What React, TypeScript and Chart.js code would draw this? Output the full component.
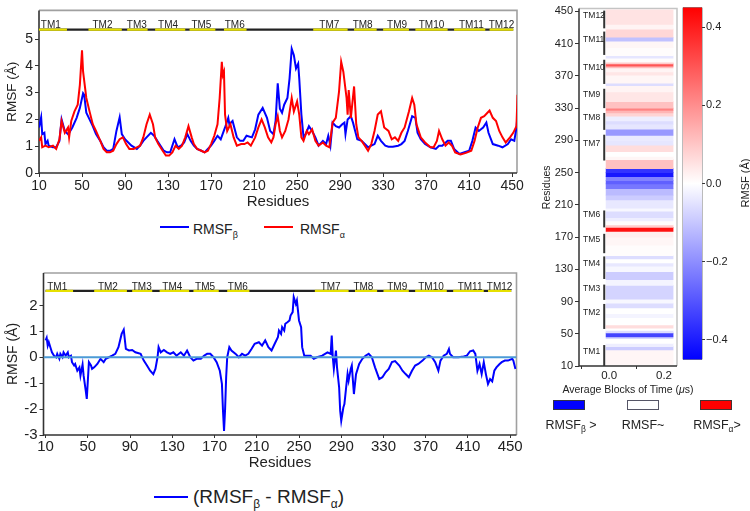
import React, { useEffect, useRef } from 'react';
import { Chart, registerables } from 'chart.js';

Chart.register(...registerables);

const FONT = "'Liberation Sans', Arial, Helvetica, sans-serif";
Chart.defaults.font.family = FONT;
Chart.defaults.color = '#222';

// ---------------- data ----------------
const betaRes = [10, 12, 13, 15, 16, 18, 19, 23, 26, 29, 31, 34, 37, 38, 41, 45, 48, 51, 52, 54, 57, 60, 63, 67, 70, 73, 76, 79, 82, 85, 87, 90, 93, 96, 101, 104, 107, 110, 114, 117, 120, 123, 126, 129, 132, 136, 139, 142, 145, 148, 151, 154, 157, 161, 164, 167, 170, 173, 176, 179, 183, 186, 187, 190, 194, 197, 200, 203, 208, 211, 214, 218, 222, 225, 228, 230, 232, 234, 236, 238, 241, 243, 245, 247, 249, 251, 252, 254, 256, 258, 261, 264, 267, 270, 274, 277, 279, 281, 283, 286, 289, 292, 294, 295, 297, 300, 302, 304, 306, 310, 313, 316, 319, 322, 325, 328, 332, 335, 339, 344, 347, 350, 353, 357, 360, 362, 365, 369, 374, 379, 382, 385, 390, 393, 396, 401, 405, 410, 413, 416, 419, 423, 426, 428, 432, 437, 441, 446, 449, 452, 454, 455];
const betaVal = [1.7, 2.08, 1.45, 1.5, 1.08, 1.2, 1.02, 0.96, 0.96, 1.2, 2.0, 1.57, 1.45, 1.5, 1.7, 2.06, 2.43, 2.98, 2.92, 2.25, 2.0, 1.75, 1.45, 1.2, 0.96, 0.83, 0.83, 0.9, 1.57, 2.08, 1.45, 1.26, 1.14, 1.02, 0.9, 1.02, 1.2, 1.33, 1.5, 1.39, 1.2, 1.02, 0.83, 0.77, 0.77, 1.26, 0.96, 1.02, 1.14, 1.45, 1.2, 1.02, 0.9, 0.83, 0.77, 0.9, 1.02, 1.2, 1.39, 1.26, 1.7, 2.06, 1.82, 1.94, 1.33, 1.2, 1.2, 1.39, 1.33, 1.63, 2.18, 2.43, 2.06, 1.57, 1.45, 1.94, 3.35, 2.4, 2.25, 2.55, 2.8, 3.53, 4.64, 4.4, 3.9, 4.08, 3.53, 2.18, 1.33, 1.45, 1.75, 1.57, 1.33, 1.02, 1.2, 1.08, 1.39, 1.02, 1.88, 1.75, 1.7, 1.82, 1.88, 1.45, 2.0, 2.12, 1.88, 1.57, 1.26, 1.2, 1.08, 0.96, 1.02, 1.08, 1.39, 1.2, 1.02, 0.98, 0.98, 1.02, 1.08, 1.2, 1.57, 2.12, 2.06, 1.5, 1.26, 1.08, 0.96, 0.9, 1.02, 1.02, 1.2, 1.2, 0.9, 0.71, 0.77, 0.83, 1.2, 1.7, 1.57, 1.7, 1.88, 1.5, 1.08, 1.02, 0.96, 1.08, 1.26, 1.2, 1.7, 2.18];

const alphaRes = [10, 12, 13, 16, 19, 23, 26, 29, 31, 34, 37, 38, 40, 43, 46, 48, 50, 51, 54, 57, 60, 63, 67, 70, 73, 76, 79, 82, 85, 88, 91, 94, 98, 101, 104, 107, 110, 113, 116, 118, 121, 125, 128, 131, 134, 137, 140, 143, 146, 149, 152, 154, 157, 161, 164, 167, 170, 173, 176, 178, 180, 181, 182, 183, 185, 188, 191, 194, 198, 201, 204, 207, 211, 214, 217, 220, 223, 226, 228, 230, 232, 234, 236, 239, 242, 245, 247, 250, 252, 254, 256, 259, 261, 264, 267, 270, 274, 277, 280, 283, 286, 289, 291, 293, 296, 297, 298, 300, 303, 305, 307, 310, 313, 316, 319, 322, 325, 328, 331, 335, 338, 341, 344, 347, 350, 354, 357, 359, 361, 365, 369, 374, 377, 380, 382, 385, 388, 391, 394, 397, 402, 407, 412, 415, 418, 421, 424, 427, 429, 432, 435, 438, 441, 444, 448, 451, 454, 455];
const alphaVal = [1.2, 1.33, 0.96, 1.02, 0.96, 1.02, 0.9, 1.26, 1.94, 1.5, 1.7, 1.33, 1.94, 2.3, 2.55, 3.29, 4.58, 3.78, 2.8, 2.3, 1.82, 1.57, 1.2, 0.9, 0.77, 0.77, 0.83, 1.08, 1.26, 1.33, 1.08, 0.9, 0.9, 0.96, 1.02, 1.33, 1.82, 2.18, 1.82, 1.33, 1.08, 0.83, 0.65, 0.65, 0.77, 1.02, 0.9, 1.02, 1.33, 1.75, 1.33, 1.08, 0.9, 0.83, 0.77, 0.83, 1.08, 1.39, 1.82, 2.8, 4.15, 3.66, 3.78, 2.18, 1.57, 1.82, 1.33, 1.02, 1.08, 1.08, 1.14, 1.02, 1.33, 1.7, 2.0, 1.7, 1.33, 1.14, 1.33, 1.82, 2.12, 1.57, 1.33, 1.57, 2.0, 2.8, 2.3, 2.67, 2.18, 1.33, 1.2, 1.57, 1.45, 1.63, 1.2, 1.02, 1.14, 1.02, 0.96, 1.88, 2.06, 3.04, 4.15, 3.78, 2.8, 2.18, 3.1, 2.06, 3.23, 1.82, 1.33, 1.2, 1.02, 0.83, 1.08, 1.57, 2.18, 2.3, 1.7, 1.57, 1.26, 1.33, 1.2, 1.5, 1.7, 2.3, 2.8, 2.55, 1.82, 1.33, 1.14, 0.96, 0.96, 1.2, 1.57, 1.26, 1.02, 1.14, 1.02, 0.77, 0.69, 0.75, 0.83, 1.2, 1.7, 2.06, 2.12, 2.25, 2.33, 2.06, 1.94, 1.57, 1.33, 1.14, 1.33, 1.5, 1.75, 2.92];

const diffRes = [10, 11, 12, 13, 15, 16, 18, 20, 21, 23, 24, 26, 27, 29, 31, 32, 34, 35, 37, 38, 40, 42, 43, 45, 46, 48, 49, 51, 53, 54, 56, 59, 62, 65, 67, 70, 73, 76, 79, 82, 84, 86, 89, 92, 95, 100, 103, 106, 109, 112, 114, 116, 117, 119, 122, 125, 128, 131, 134, 138, 141, 144, 147, 150, 153, 157, 160, 163, 166, 169, 172, 175, 177, 178, 179, 180, 181, 182, 184, 186, 190, 193, 196, 199, 202, 205, 208, 212, 215, 218, 221, 224, 227, 230, 231, 233, 234, 236, 237, 239, 241, 242, 244, 245, 247, 248, 250, 252, 253, 255, 258, 261, 264, 267, 272, 277, 280, 281, 282, 283, 285, 286, 288, 289, 290, 292, 293, 295, 296, 297, 299, 300, 302, 304, 307, 310, 313, 316, 319, 322, 326, 329, 332, 335, 338, 341, 345, 348, 351, 354, 357, 360, 363, 367, 370, 373, 376, 379, 382, 384, 387, 390, 392, 393, 396, 401, 406, 409, 412, 415, 417, 419, 421, 423, 425, 427, 429, 431, 433, 435, 437, 440, 442, 445, 448, 452, 453, 455];
const diffVal = [0.65, 0.75, 0.45, 0.58, 0.32, 0.19, 0.06, 0, 0.13, -0.06, 0.13, 0, 0.19, 0.06, 0.19, 0, 0.06, -0.19, -0.32, -0.26, -0.52, -0.39, -0.71, -0.28, -0.71, -1.29, -1.61, -0.19, -0.32, -0.45, -0.39, -0.26, -0.06, -0.19, -0.06, 0, 0.06, 0.13, 0.39, 0.9, 1.06, 0.32, 0.26, 0.28, 0.19, 0.13, -0.13, -0.32, -0.52, -0.65, -0.45, 0, 0.39, 0.19, 0.28, 0.19, 0.13, 0.19, 0.06, 0.19, 0.06, 0.26, 0, -0.13, -0.06, -0.06, 0.06, 0.13, 0.13, 0, -0.19, -0.52, -1.03, -2.06, -2.84, -2.0, -0.77, 0, 0.39, 0.26, 0.13, 0, 0.13, 0.06, 0.13, 0.32, 0.52, 0.58, 0.45, 0.65, 0.39, 0.26, 0.52, 0.77, 1.03, 0.9, 1.16, 1.03, 1.29, 1.35, 1.42, 1.61, 1.74, 2.32, 2.06, 2.19, 1.42, 1.16, 0.39, 0.06, 0.06, 0.06, -0.06, 0, 0.06, 0.19, 0.13, 0.84, 0, -0.45, 0.26, -0.39, -1.16, -2.06, -2.45, -1.94, -1.81, -1.03, -0.65, -0.9, -0.45, -0.32, -1.42, -0.65, -0.26, -0.06, 0.06, 0.13, 0, -0.39, -0.84, -0.77, -0.58, -0.45, -0.19, -0.15, -0.32, -0.52, -0.65, -0.77, -0.52, -0.32, -0.26, -0.13, 0, 0.06, 0, -0.19, -0.52, -0.13, 0.06, 0.13, 0.32, 0.13, 0, 0, 0.03, 0.06, 0.23, 0.26, 0.13, -0.52, -0.26, -0.65, -0.19, -0.65, -1.03, -0.84, -0.93, -0.52, -0.39, -0.26, -0.19, -0.13, -0.13, -0.06, -0.13, -0.45];

const tmNames = ['TM1', 'TM2', 'TM3', 'TM4', 'TM5', 'TM6', 'TM7', 'TM8', 'TM9', 'TM10', 'TM11', 'TM12'];
const tmStart = [10, 56, 92, 118, 150, 182, 265, 303, 330, 360, 396, 429];
const tmEnd = [36, 87, 111, 146, 174, 203, 297, 324, 354, 390, 425, 451];
const tmLabelAt = [21, 69, 101, 130, 161, 192, 280, 311, 343, 375, 412, 440];

const residueTicks = [10, 50, 90, 130, 170, 210, 250, 290, 330, 370, 410, 450];
const rmsfTicks = [0, 1, 2, 3, 4, 5];
const diffTicks = [-3, -2, -1, 0, 1, 2];
const timeTicks = [0, 0.2];
const cbarTicks = [-0.4, -0.2, 0, 0.2, 0.4];

// heatmap bands: start residue of each band and its value (band ends where next starts)
const heatStart = [12, 30, 34, 38, 44, 46, 51, 54, 57, 61, 70, 75, 82, 88, 93, 110, 117, 127, 134, 138, 143, 147, 160, 170, 177, 182, 185, 190, 194, 202, 206, 216, 222, 230, 236, 240, 245, 250, 255, 266, 270, 276, 284, 290, 296, 304, 310, 314, 320, 324, 327, 330, 338, 350, 358, 361, 371, 375, 380, 382, 385, 387, 392, 395, 405, 413, 418, 428, 434];
const heatVal = [0.015, -0.09, -0.03, 0.0, -0.07, -0.33, -0.06, 0.0, 0.06, 0.0, -0.02, 0.0, -0.06, -0.015, -0.075, -0.02, -0.09, -0.015, -0.04, 0.0, -0.06, 0.005, 0.015, 0.03, 0.42, 0.09, 0.005, -0.03, -0.06, -0.015, -0.04, -0.09, -0.12, -0.24, -0.28, -0.22, -0.41, -0.36, 0.11, 0.015, 0.0, 0.06, -0.045, -0.035, -0.18, -0.045, -0.06, -0.03, 0.075, 0.13, 0.22, 0.11, 0.045, 0.02, -0.06, 0.015, 0.045, 0.02, 0.12, 0.3, 0.09, 0.005, -0.045, 0.005, 0.015, -0.11, 0.07, 0.02, 0.05];
const heatLastEnd = 452;

// ---------------- helpers ----------------
function bwr(v: number): string {
  const t = Math.max(0, Math.min(1, (v + 0.45) / 0.9));
  if (t < 0.5) {
    const c = Math.round(255 * t * 2);
    return `rgb(${c},${c},255)`;
  }
  const c = Math.round(255 * (1 - t) * 2);
  return `rgb(255,${c},${c})`;
}

const pts = (xs: number[], ys: number[]) => xs.map((x, i) => ({ x, y: ys[i] }));

function tmSegments(level: number) {
  const out: any[] = [];
  tmStart.forEach((s, i) => {
    out.push({ x: s, y: level }, { x: tmEnd[i], y: level }, { x: tmEnd[i], y: null });
  });
  return out;
}

const framePlugin = {
  id: 'frame',
  beforeDatasetsDraw(chart: any, _a: any, opts: any) {
    if (!opts || !opts.dark) return;
    const { ctx, chartArea: a } = chart;
    ctx.save();
    ctx.lineWidth = opts.width || 1.5;
    ctx.strokeStyle = opts.light;
    ctx.beginPath();
    ctx.moveTo(a.left, a.top);
    ctx.lineTo(a.right, a.top);
    ctx.lineTo(a.right, a.bottom);
    ctx.stroke();
    ctx.strokeStyle = opts.dark;
    ctx.beginPath();
    ctx.moveTo(a.left, a.top);
    ctx.lineTo(a.left, a.bottom);
    ctx.lineTo(a.right, a.bottom);
    ctx.stroke();
    ctx.restore();
  },
};

const tmLabelPlugin = {
  id: 'tmLabels',
  afterDatasetsDraw(chart: any, _a: any, opts: any) {
    if (!opts || opts.level === undefined) return;
    const { ctx, scales } = chart;
    const x = scales.x;
    const y = scales.y;
    ctx.save();
    ctx.font = `${opts.size}px ${FONT}`;
    ctx.fillStyle = '#222';
    ctx.textAlign = 'center';
    ctx.textBaseline = 'alphabetic';
    const py = y.getPixelForValue(opts.level) - opts.gap;
    tmNames.forEach((n, i) => ctx.fillText(n, x.getPixelForValue(tmLabelAt[i]), py));
    ctx.restore();
  },
};

const heatTmPlugin = {
  id: 'heatTm',
  afterDatasetsDraw(chart: any, _a: any, opts: any) {
    if (!opts || opts.barX === undefined) return;
    const { ctx, scales } = chart;
    const x = scales.x;
    const y = scales.y;
    const bx = x.getPixelForValue(opts.barX);
    const lx = x.getPixelForValue(opts.textX);
    ctx.save();
    ctx.strokeStyle = '#333';
    ctx.lineWidth = 2;
    ctx.font = `8.5px ${FONT}`;
    ctx.fillStyle = '#222';
    ctx.textAlign = 'left';
    ctx.textBaseline = 'middle';
    tmNames.forEach((n, i) => {
      ctx.beginPath();
      ctx.moveTo(bx, y.getPixelForValue(tmStart[i]));
      ctx.lineTo(bx, y.getPixelForValue(tmEnd[i]));
      ctx.stroke();
      ctx.fillText(n, lx, y.getPixelForValue((tmStart[i] + tmEnd[i]) / 2 + 5));
    });
    ctx.restore();
  },
};

const axisLook = (size: number, tickLen: number, pad: number) => ({
  ticks: { font: { size, family: FONT }, color: '#222', padding: pad, maxRotation: 0, autoSkip: false },
  grid: { display: true, drawOnChartArea: false, drawTicks: true, tickLength: tickLen, color: '#333', lineWidth: 1 },
  border: { display: false },
});

const setTicks = (vals: number[]) => (s: any) => {
  s.ticks = vals.map((v) => ({ value: v }));
};

// ---------------- chart configs ----------------
function topConfig(): any {
  return {
    type: 'line',
    data: {
      datasets: [
        { data: tmSegments(5.35), borderColor: '#e6e000', borderWidth: 2.2, pointRadius: 0, spanGaps: false },
        { data: [{ x: tmStart[0], y: 5.35 }, { x: tmEnd[tmEnd.length - 1], y: 5.35 }], borderColor: '#222', borderWidth: 2.2, pointRadius: 0 },
        { label: 'RMSFα', data: pts(alphaRes, alphaVal), borderColor: '#ff0000', borderWidth: 2, pointRadius: 0, tension: 0 },
        { label: 'RMSFβ', data: pts(betaRes, betaVal), borderColor: '#0000ff', borderWidth: 2, pointRadius: 0, tension: 0 },
      ],
    },
    options: {
      animation: false,
      responsive: false,
      maintainAspectRatio: false,
      events: [],
      layout: { padding: { top: 9, right: 8, left: 0, bottom: 0 } },
      plugins: {
        legend: { display: false },
        tooltip: { enabled: false },
        frame: { light: '#a0a0a0', dark: '#333', width: 1.6 },
        tmLabels: { level: 5.35, size: 10, gap: 1.5 },
      },
      scales: {
        x: {
          type: 'linear', min: 10, max: 454.5,
          afterBuildTicks: setTicks(residueTicks),
          afterFit: (s: any) => { s.height = 42; },
          ...axisLook(14, 4, 1),
          title: { display: true, text: 'Residues', font: { size: 15 }, color: '#222', padding: { top: 0, bottom: 4 } },
        },
        y: {
          type: 'linear', min: 0, max: 6.07,
          afterBuildTicks: setTicks(rmsfTicks),
          afterFit: (s: any) => { s.width = 39; },
          ...axisLook(14, 4, 2),
          title: { display: true, text: 'RMSF (Å)', font: { size: 13.5 }, color: '#222', padding: { top: 4, bottom: 4 } },
        },
      },
    },
    plugins: [framePlugin, tmLabelPlugin],
  };
}

function bottomConfig(): any {
  return {
    type: 'line',
    data: {
      datasets: [
        { data: tmSegments(2.56), borderColor: '#e6e000', borderWidth: 2.2, pointRadius: 0, spanGaps: false },
        { data: [{ x: tmStart[0], y: 2.56 }, { x: tmEnd[tmEnd.length - 1], y: 2.56 }], borderColor: '#222', borderWidth: 2.2, pointRadius: 0 },
        { data: [{ x: 8, y: 0 }, { x: 456, y: 0 }], borderColor: '#4c9bd6', borderWidth: 2, pointRadius: 0 },
        { label: 'diff', data: pts(diffRes, diffVal), borderColor: '#0000ff', borderWidth: 2, pointRadius: 0, tension: 0 },
      ],
    },
    options: {
      animation: false,
      responsive: false,
      maintainAspectRatio: false,
      events: [],
      layout: { padding: { top: 23, right: 9.5, left: 0, bottom: 0 } },
      plugins: {
        legend: { display: false },
        tooltip: { enabled: false },
        frame: { light: '#a0a0a0', dark: '#333', width: 1.6 },
        tmLabels: { level: 2.56, size: 10, gap: 1 },
      },
      scales: {
        x: {
          type: 'linear', min: 8, max: 456,
          afterBuildTicks: setTicks(residueTicks),
          afterFit: (s: any) => { s.height = 41; },
          ...axisLook(15, 3, 0),
          title: { display: true, text: 'Residues', font: { size: 15 }, color: '#222', padding: { top: 0, bottom: 4 } },
        },
        y: {
          type: 'linear', min: -3, max: 3.25,
          afterBuildTicks: setTicks(diffTicks),
          afterFit: (s: any) => { s.width = 43.5; },
          ...axisLook(15, 4, 2),
          title: { display: true, text: 'RMSF (Å)', font: { size: 14 }, color: '#222', padding: { top: 5, bottom: 4 } },
        },
      },
    },
    plugins: [framePlugin, tmLabelPlugin],
  };
}

function heatConfig(): any {
  const bands = heatStart.map((s, i) => ({
    x: 0.111,
    y: [s, i < heatStart.length - 1 ? heatStart[i + 1] : heatLastEnd],
  }));
  return {
    type: 'bar',
    data: {
      datasets: [
        {
          data: bands,
          backgroundColor: heatVal.map(bwr),
          borderWidth: 0,
          barThickness: 67,
          grouped: false,
        },
      ],
    },
    options: {
      animation: false,
      responsive: false,
      maintainAspectRatio: false,
      events: [],
      layout: { padding: { top: 2, right: 73, left: 17, bottom: 0 } },
      plugins: {
        legend: { display: false },
        tooltip: { enabled: false },
        frame: { light: '#c4c4c4', dark: '#333', width: 1.5 },
        heatTm: { barX: -0.018, textX: -0.095 },
      },
      scales: {
        x: {
          type: 'linear', min: -0.11, max: 0.2475, offset: false,
          afterBuildTicks: setTicks(timeTicks),
          afterFit: (s: any) => { s.height = 34; },
          ...axisLook(11.5, 3, 0),
          ticks: { font: { size: 11.5, family: FONT }, color: '#222', padding: 0, maxRotation: 0, autoSkip: false, callback: (v: any) => Number(v).toFixed(1) },
          title: { display: false },
        },
        y: {
          type: 'linear', min: 10, max: 453.5,
          afterBuildTicks: setTicks(residueTicks),
          afterFit: (s: any) => { s.width = 42; },
          ...axisLook(11, 4, 2),
          title: { display: true, text: 'Residues', font: { size: 10.5 }, color: '#222', padding: { top: 4, bottom: 4 } },
        },
      },
    },
    plugins: [framePlugin, heatTmPlugin],
  };
}

function cbarConfig(): any {
  return {
    type: 'bar',
    data: {
      labels: ['c'],
      datasets: [
        {
          data: [[-0.45, 0.45]],
          barPercentage: 1,
          categoryPercentage: 1,
          borderWidth: 0,
          backgroundColor: (c: any) => {
            const a = c.chart.chartArea;
            if (!a) return '#ffffff';
            const g = c.chart.ctx.createLinearGradient(0, a.bottom, 0, a.top);
            g.addColorStop(0, bwr(-0.45));
            g.addColorStop(0.5, bwr(0));
            g.addColorStop(1, bwr(0.45));
            return g;
          },
        },
      ],
    },
    options: {
      animation: false,
      responsive: false,
      maintainAspectRatio: false,
      events: [],
      layout: { padding: { top: 1, right: 0, left: 3, bottom: 0 } },
      plugins: {
        legend: { display: false },
        tooltip: { enabled: false },
        frame: { light: '#555', dark: '#555', width: 0.8 },
      },
      scales: {
        x: { display: false },
        y: {
          position: 'right', min: -0.45, max: 0.45,
          afterBuildTicks: setTicks(cbarTicks),
          afterFit: (s: any) => { s.width = 48; },
          ...axisLook(11, 3, 1),
          ticks: {
            font: { size: 11, family: FONT }, color: '#222', padding: 1, autoSkip: false,
            callback: (v: any) => (Number(v) < 0 ? '\u2212' : '') + Math.abs(Number(v)).toFixed(1),
          },
        },
      },
    },
    plugins: [framePlugin],
  };
}

// ---------------- components ----------------
function ChartBox(props: { x: number; y: number; w: number; h: number; make: () => any }) {
  const ref = useRef<HTMLCanvasElement>(null);
  useEffect(() => {
    const chart = new Chart(ref.current as HTMLCanvasElement, props.make());
    return () => chart.destroy();
  }, []);
  return (
    <canvas
      ref={ref}
      width={props.w}
      height={props.h}
      style={{ position: 'absolute', left: props.x, top: props.y, width: props.w, height: props.h }}
    />
  );
}

const sub = (t: string, size: number, drop: number) => (
  <span style={{ fontSize: size, verticalAlign: -drop }}>{t}</span>
);

export default function App() {
  return (
    <div
      style={{
        position: 'absolute', left: 0, top: 0, width: 750, height: 511, background: '#fff',
        fontFamily: FONT, color: '#222', overflow: 'hidden',
      }}
    >
      <ChartBox x={0} y={0} w={525} h={215} make={topConfig} />
      <ChartBox x={0} y={250} w={526} h={226} make={bottomConfig} />
      <ChartBox x={520} y={0} w={230} h={400} make={heatConfig} />
      <ChartBox x={680} y={0} w={70} h={367} make={cbarConfig} />

      {/* heatmap x-axis title */}
      <div style={{ position: 'absolute', left: 528, top: 383, width: 200, fontSize: 10.5, lineHeight: '12px', textAlign: 'center', whiteSpace: 'nowrap' }}>
        Average Blocks of Time (<i>μ</i>s)
      </div>

      {/* top legend */}
      <div style={{ position: 'absolute', left: 160, top: 225.5, width: 29, height: 2.5, background: '#0000ff' }} />
      <div style={{ position: 'absolute', left: 193, top: 221, fontSize: 14, lineHeight: '16px', whiteSpace: 'nowrap' }}>
        RMSF{sub('β', 9, 4)}
      </div>
      <div style={{ position: 'absolute', left: 264, top: 225.5, width: 29, height: 2.5, background: '#ff0000' }} />
      <div style={{ position: 'absolute', left: 300, top: 221, fontSize: 14, lineHeight: '16px', whiteSpace: 'nowrap' }}>
        RMSF{sub('α', 9, 4)}
      </div>

      {/* bottom legend */}
      <div style={{ position: 'absolute', left: 154, top: 495.5, width: 34, height: 2.5, background: '#0000ff' }} />
      <div style={{ position: 'absolute', left: 193, top: 485.5, fontSize: 19, lineHeight: '22px', whiteSpace: 'nowrap' }}>
        (RMSF{sub('β', 12, 5)} - RMSF{sub('α', 12, 5)})
      </div>

      {/* colorbar label */}
      <div
        style={{
          position: 'absolute', left: 745 - 40, top: 183 - 7, width: 80, height: 14, lineHeight: '14px',
          fontSize: 11, textAlign: 'center', transform: 'rotate(-90deg)', whiteSpace: 'nowrap',
        }}
      >
        RMSF (Å)
      </div>

      {/* heatmap legend */}
      <div style={{ position: 'absolute', left: 553, top: 400, width: 30, height: 8, background: '#0000ff', border: '1px solid #334' }} />
      <div style={{ position: 'absolute', left: 627, top: 400, width: 30, height: 8, background: '#ffffff', border: '1px solid #556' }} />
      <div style={{ position: 'absolute', left: 700, top: 400, width: 30, height: 8, background: '#ff0000', border: '1px solid #433' }} />
      <div style={{ position: 'absolute', left: 531, top: 418, width: 80, fontSize: 12.5, lineHeight: '14px', textAlign: 'center', whiteSpace: 'nowrap' }}>
        RMSF{sub('β', 8.5, 3)} &gt;
      </div>
      <div style={{ position: 'absolute', left: 603, top: 418, width: 80, fontSize: 12.5, lineHeight: '14px', textAlign: 'center', whiteSpace: 'nowrap' }}>
        RMSF~
      </div>
      <div style={{ position: 'absolute', left: 677, top: 418, width: 80, fontSize: 12.5, lineHeight: '14px', textAlign: 'center', whiteSpace: 'nowrap' }}>
        RMSF{sub('α', 8.5, 3)}&gt;
      </div>
    </div>
  );
}
